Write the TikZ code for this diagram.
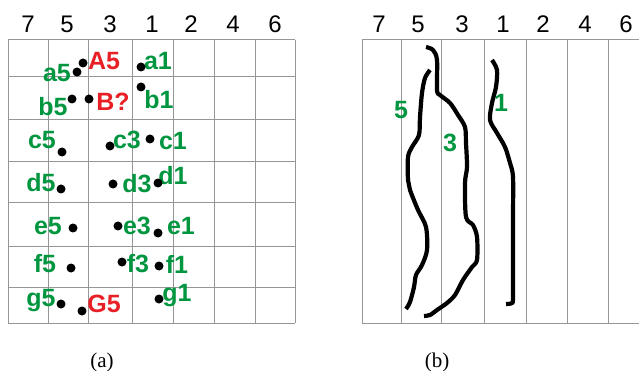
\documentclass[tikz,border=0pt]{standalone}
\usepackage{fontspec}
\setmainfont{Liberation Serif}
\setsansfont{Liberation Sans}
\definecolor{lblgreen}{RGB}{0,150,64}
\definecolor{lblred}{RGB}{232,32,38}
\definecolor{gridgray}{RGB}{150,150,150}
\tikzset{
  colnum/.style={font=\sffamily\fontsize{24}{24}\selectfont, inner sep=0pt},
  plab/.style={font=\sffamily\bfseries\fontsize{25}{25}\selectfont, text=lblgreen, inner sep=0pt},
  plabred/.style={plab, text=lblred},
  gridline/.style={gridgray, line width=1pt},
  trace/.style={line width=4.2pt, line join=round},
  capt/.style={font=\fontsize{21}{21}\selectfont, inner sep=0pt}
}

\begin{document}
\begin{tikzpicture}[x=1pt, y=-1pt]
\useasboundingbox (0,0) rectangle (639,371);
%grid (a)
  \foreach \x in {8,48,88,132,173,214,255,295}
    \draw[gridline] (\x,40) -- (\x,323);
  \foreach \y in {40,77,120,162,203,246,287,323}
    \draw[gridline] (8,\y) -- (295,\y);
%grid (b)
  \foreach \x in {362,401,441,484,526,567,608}
    \draw[gridline] (\x,40) -- (\x,323);
  \draw[gridline] (362,40) -- (639,40);
  \draw[gridline] (362,323) -- (639,323);

%column numbers
  \foreach \n/\xa/\xb in {7/28/379, 5/67/418, 3/110/462, 1/152/503, 2/191/543, 4/233/585, 6/275/626}{
    \node[colnum] (ca\n) at (\xa,24) {\n};
    \node[colnum] (cb\n) at (\xb,24) {\n};
  }

%points
  \coordinate (A5) at (83,63);
  \coordinate (a5) at (77,72);
  \coordinate (a1) at (141,67);
  \coordinate (b5) at (72,99);
  \coordinate (B?) at (89,99);
  \coordinate (b1) at (141,87);
  \coordinate (c5) at (62,152);
  \coordinate (c3) at (110,146);
  \coordinate (c1) at (150,139);
  \coordinate (d5) at (61,189);
  \coordinate (d3) at (113,184);
  \coordinate (d1) at (158,183);
  \coordinate (e5) at (73,228);
  \coordinate (e3) at (118,226);
  \coordinate (e1) at (158,233);
  \coordinate (f5) at (71,268);
  \coordinate (f3) at (122,262);
  \coordinate (f1) at (159,266);
  \coordinate (g5) at (61,304);
  \coordinate (G5) at (82,311);
  \coordinate (g1) at (159,299);

%labels
  \node[plabred] (lA5) at (104,61) {A5};
  \node[plab] (la5) at (57,73) {a5};
  \node[plab] (la1) at (158,61) {a1};
  \node[plab] (lb5) at (53,107) {b5};
  \node[plabred] (lB) at (113,102) {B?};
  \node[plab] (lb1) at (159,100) {b1};
  \node[plab] (lc5) at (42,140) {c5};
  \node[plab] (lc3) at (127,140) {c3};
  \node[plab] (lc1) at (173,141) {c1};
  \node[plab] (ld5) at (41,183) {d5};
  \node[plab] (ld3) at (137,184) {d3};
  \node[plab] (ld1) at (173,176) {d1};
  \node[plab] (le5) at (48,226) {e5};
  \node[plab] (le3) at (137,226) {e3};
  \node[plab] (le1) at (181,226) {e1};
  \node[plab] (lf5) at (45,264) {f5};
  \node[plab] (lf3) at (138,264) {f3};
  \node[plab] (lf1) at (177,264) {f1};
  \node[plab] (lg5) at (41,301) {g5};
  \node[plabred] (lG5) at (104,304) {G5};
  \node[plab] (lg1) at (177,296) {g1};

%filling points
  \foreach \p in {A5,a5,a1,b5,B?,b1,c5,c3,c1,d5,d3,d1,e5,e3,e1,f5,f3,f1,g5,G5,g1}
    \fill (\p) circle (4.5pt);

%traces (b)
  \draw[trace] plot[smooth, tension=0.5] coordinates {(426,47) (433,50) (437,60) (437,90) (440,95) (450,103) (458,115) (465,127) (466,143) (467,167) (465,183) (466,217) (473,225) (477,237) (477,260) (472,267) (463,280) (455,295) (447,303) (437,310) (430,315) (424,316)};
  \draw[trace] plot[smooth, tension=0.5] coordinates {(430,70) (425,78) (422,93) (420,117) (419,135) (412,147) (408,157) (408,180) (410,190) (418,210) (426,227) (427,250) (422,265) (416,275) (414,287) (410,302) (406,309)};
  \draw[trace] plot[smooth, tension=0.5] coordinates {(492,60) (497,70) (496,87) (492,103) (490,120) (497,133) (505,147) (510,163) (513,177) (513,217) (513,250) (513,297) (512,303) (506,304)};
  \node[plab] (t5) at (401,110) {5};
  \node[plab] (t3) at (450,143) {3};
  \node[plab] (t1) at (501,103) {1};

%captions
  \node[capt] (capa) at (102,362) {(a)};
  \node[capt] (capb) at (437,362) {(b)};
\end{tikzpicture}
\end{document}
